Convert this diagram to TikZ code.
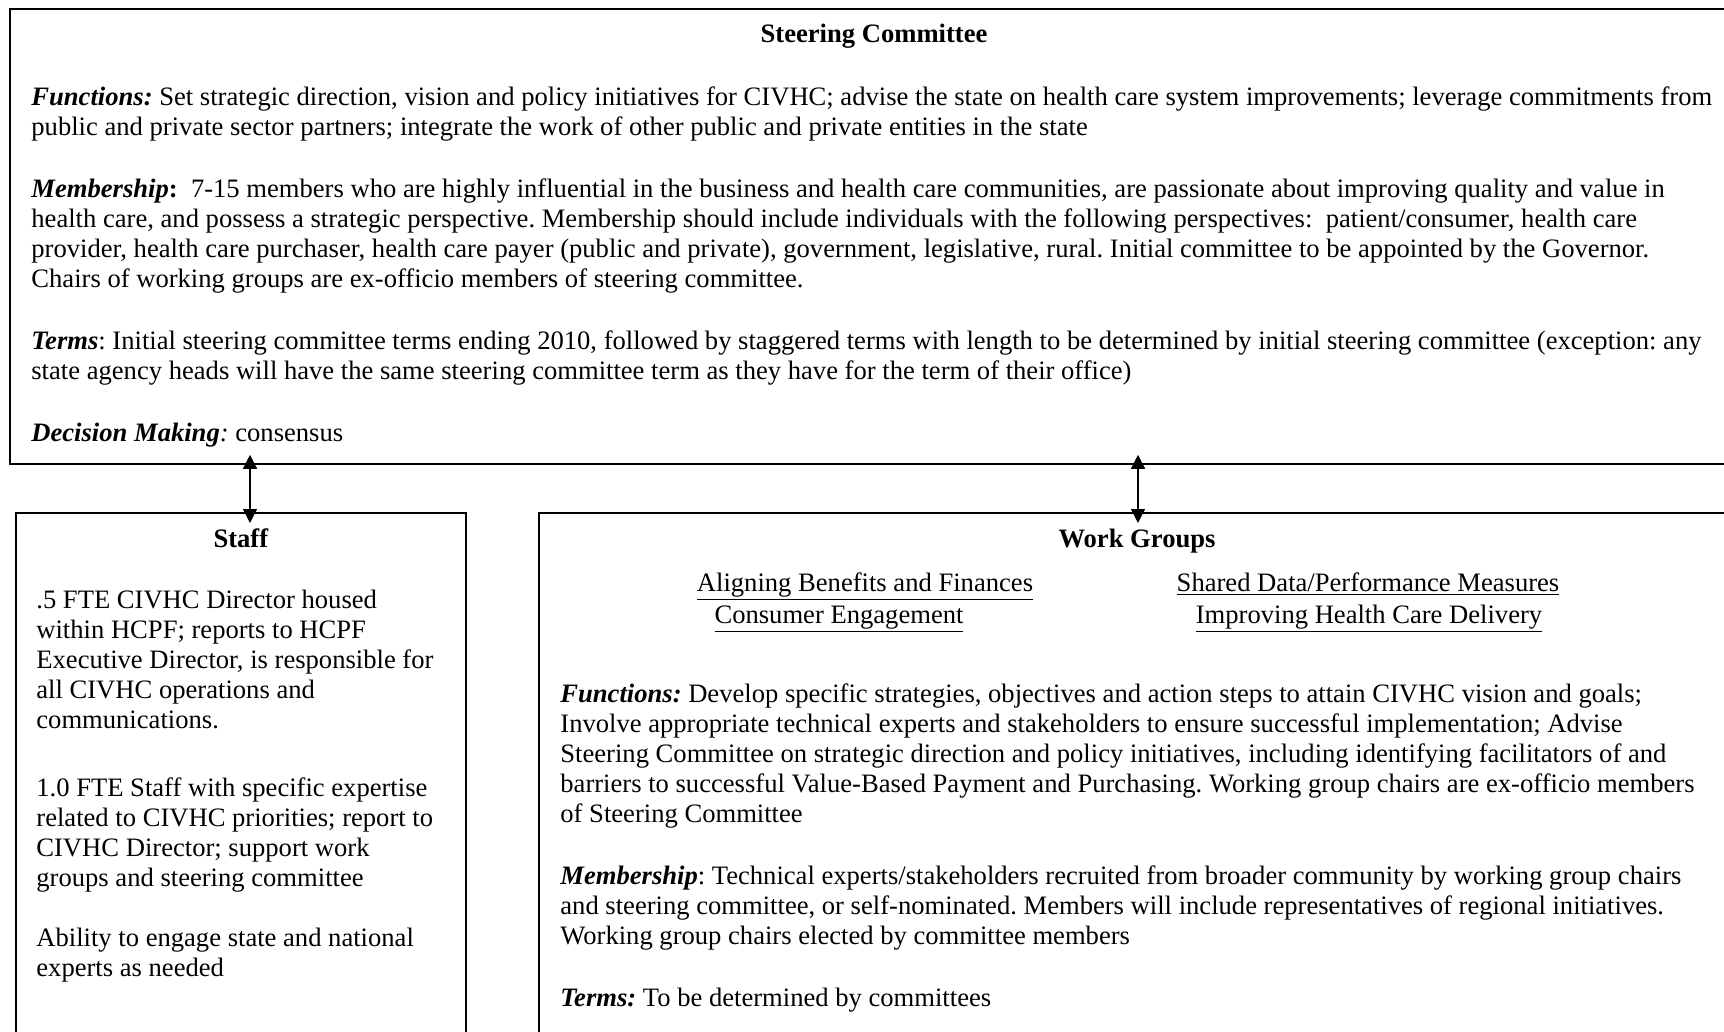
\documentclass[tikz,border=0pt]{standalone}
\usepackage{fontspec}
\setmainfont{Liberation Serif}
\usetikzlibrary{arrows.meta}
\frenchspacing
\begin{document}
\begin{tikzpicture}[x=0.5pt,y=-0.5pt]
        \tikzstyle{box}=[rectangle, draw=black, line width=0.9pt, inner sep=0pt, anchor=north west]
        \tikzstyle{txt}=[inner sep=0pt, anchor=north west, align=left, font=\fontsize{13.3}{15}\selectfont]
        \tikzstyle{edge}=[black, line width=0.7pt, {Triangle[length=7pt,width=7pt]}-{Triangle[length=7pt,width=7pt]}]

        \useasboundingbox (0,0) rectangle (1724,1032);
        \clip (0,0) rectangle (1724,1032);
        \fill[white] (0,0) rectangle (1724,1032);

        % the three frames, running off the page on the right and at the bottom
        \node[box, minimum width=865pt, minimum height=227.5pt] (steer) at (9,8) {};
        \node[box, minimum width=225pt, minimum height=280pt] (staff) at (15,512) {};
        \node[box, minimum width=600pt, minimum height=280pt] (work) at (538,512) {};

        \node[txt, anchor=base] (steertitle) at (874,43) {\textbf{Steering Committee}};
        \node[txt] (steertext) at (31,86) {%
          \textbf{\textit{Functions:}} Set strategic direction, vision and policy initiatives for CIVHC; advise the state on health care system improvements; leverage commitments from\\
          public and private sector partners; integrate the work of other public and private entities in the state\\[16pt]
          \textbf{\textit{Membership}:}\ \ 7-15 members who are highly influential in the business and health care communities, are passionate about improving quality and value in\\
          health care, and possess a strategic perspective. Membership should include individuals with the following perspectives:\ \ patient/consumer, health care\\
          provider, health care purchaser, health care payer (public and private), government, legislative, rural. Initial committee to be appointed by the Governor.\\
          Chairs of working groups are ex-officio members of steering committee.\\[16pt]
          \textbf{\textit{Terms}}: Initial steering committee terms ending 2010, followed by staggered terms with length to be determined by initial steering committee (exception: any\\
          state agency heads will have the same steering committee term as they have for the term of their office)\\[16pt]
          \textbf{\textit{Decision Making}}\textit{:} consensus};

        \node[txt, anchor=base] (stafftitle) at (241,547) {\textbf{Staff}};
        \node[txt] (stafftext) at (36,590) {%
          .5 FTE CIVHC Director housed\\
          within HCPF; reports to HCPF\\
          Executive Director, is responsible for\\
          all CIVHC operations and\\
          communications.\\[19pt]
          1.0 FTE Staff with specific expertise\\
          related to CIVHC priorities; report to\\
          CIVHC Director; support work\\
          groups and steering committee\\[15pt]
          Ability to engage state and national\\
          experts as needed};

        \node[txt, anchor=base] (worktitle) at (1137,547) {\textbf{Work Groups}};
        \node[txt, anchor=base] (benefits) at (865,591) {\underline{Aligning Benefits and Finances}};
        \node[txt, anchor=base] (consumer) at (839,623) {\underline{Consumer Engagement}};
        \node[txt, anchor=base] (shared) at (1368,591) {\underline{Shared Data/Performance Measures}};
        \node[txt, anchor=base] (delivery) at (1369,623) {\underline{Improving Health Care Delivery}};
        \node[txt] (worktext) at (560,683) {%
          \textbf{\textit{Functions:}} Develop specific strategies, objectives and action steps to attain CIVHC vision and goals;\\
          Involve appropriate technical experts and stakeholders to ensure successful implementation; Advise\\
          Steering Committee on strategic direction and policy initiatives, including identifying facilitators of and\\
          barriers to successful Value-Based Payment and Purchasing. Working group chairs are ex-officio members\\
          of Steering Committee\\[16pt]
          \textbf{\textit{Membership}}: Technical experts/stakeholders recruited from broader community by working group chairs\\
          and steering committee, or self-nominated. Members will include representatives of regional initiatives.\\
          Working group chairs elected by committee members\\[16pt]
          \textbf{\textit{Terms:}} To be determined by committees};

        \draw[edge, shorten <=-5.5pt, shorten >=-5pt] (staff.north -| 250,0) -- (steer.south -| 250,0);
        \draw[edge, shorten <=-5.5pt, shorten >=-5pt] (work.north -| 1138,0) -- (steer.south -| 1138,0);
    \end{tikzpicture}
\end{document}
